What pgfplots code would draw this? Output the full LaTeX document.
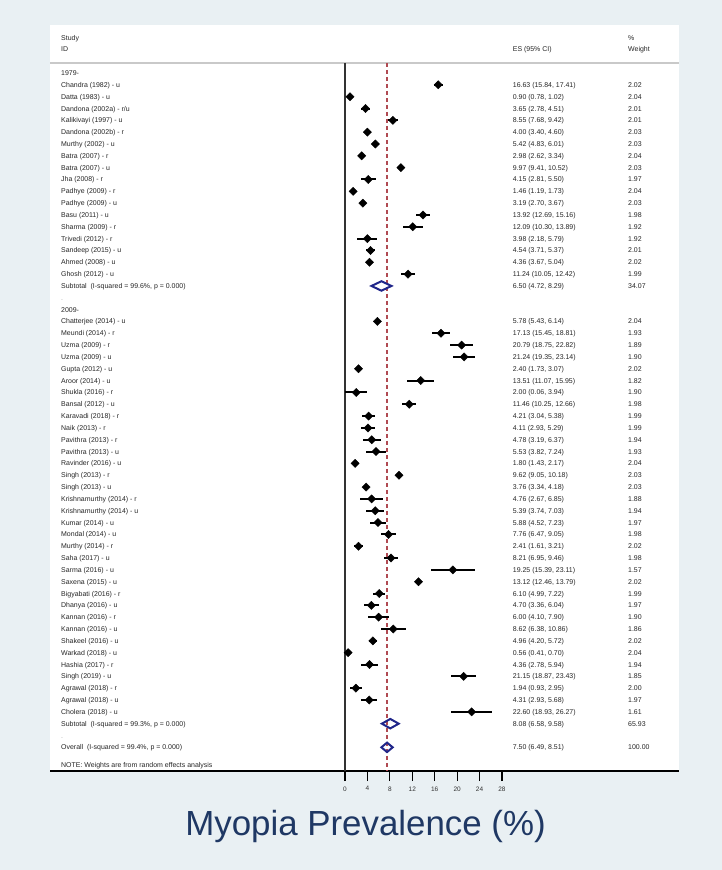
\documentclass[border=0pt]{standalone}
\usepackage{fontspec}
\setmainfont{Liberation Sans}
\usepackage{pgfplots}
\usepackage{pgfplotstable}
\pgfplotsset{compat=1.18}
\definecolor{PageBG}{HTML}{E9F0F3}
\definecolor{TitleNavy}{HTML}{1F3864}
\definecolor{DiaNavy}{HTML}{20268A}
\definecolor{RefRed}{HTML}{B04A52}
\definecolor{SepGray}{HTML}{C9C9C9}
\tikzset{txt/.style={anchor=base west, yshift=-2.5bp, inner sep=0pt,
  font=\fontsize{7}{8}\selectfont, text=black!85}}

% row; es; lo; hi; weight; study; ci text
\pgfplotstableread[col sep=semicolon]{
row;es;lo;hi;w;label;ci
1;16.63;15.84;17.41;2.02;Chandra (1982) - u;16.63 (15.84, 17.41)
2;0.90;0.78;1.02;2.04;Datta (1983) - u;0.90 (0.78, 1.02)
3;3.65;2.78;4.51;2.01;Dandona (2002a) - r/u;3.65 (2.78, 4.51)
4;8.55;7.68;9.42;2.01;Kalikivayi (1997) - u;8.55 (7.68, 9.42)
5;4.00;3.40;4.60;2.03;Dandona (2002b) - r;4.00 (3.40, 4.60)
6;5.42;4.83;6.01;2.03;Murthy (2002) - u;5.42 (4.83, 6.01)
7;2.98;2.62;3.34;2.04;Batra (2007) - r;2.98 (2.62, 3.34)
8;9.97;9.41;10.52;2.03;Batra (2007) - u;9.97 (9.41, 10.52)
9;4.15;2.81;5.50;1.97;Jha (2008) - r;4.15 (2.81, 5.50)
10;1.46;1.19;1.73;2.04;Padhye (2009) - r;1.46 (1.19, 1.73)
11;3.19;2.70;3.67;2.03;Padhye (2009) - u;3.19 (2.70, 3.67)
12;13.92;12.69;15.16;1.98;Basu (2011) - u;13.92 (12.69, 15.16)
13;12.09;10.30;13.89;1.92;Sharma (2009) - r;12.09 (10.30, 13.89)
14;3.98;2.18;5.79;1.92;Trivedi (2012) - r;3.98 (2.18, 5.79)
15;4.54;3.71;5.37;2.01;Sandeep (2015) - u;4.54 (3.71, 5.37)
16;4.36;3.67;5.04;2.02;Ahmed (2008) - u;4.36 (3.67, 5.04)
17;11.24;10.05;12.42;1.99;Ghosh (2012) - u;11.24 (10.05, 12.42)
21;5.78;5.43;6.14;2.04;Chatterjee (2014) - u;5.78 (5.43, 6.14)
22;17.13;15.45;18.81;1.93;Meundi (2014) - r;17.13 (15.45, 18.81)
23;20.79;18.75;22.82;1.89;Uzma (2009) - r;20.79 (18.75, 22.82)
24;21.24;19.35;23.14;1.90;Uzma (2009) - u;21.24 (19.35, 23.14)
25;2.40;1.73;3.07;2.02;Gupta (2012) - u;2.40 (1.73, 3.07)
26;13.51;11.07;15.95;1.82;Aroor (2014) - u;13.51 (11.07, 15.95)
27;2.00;0.06;3.94;1.90;Shukla (2016) - r;2.00 (0.06, 3.94)
28;11.46;10.25;12.66;1.98;Bansal (2012) - u;11.46 (10.25, 12.66)
29;4.21;3.04;5.38;1.99;Karavadi (2018) - r;4.21 (3.04, 5.38)
30;4.11;2.93;5.29;1.99;Naik (2013) - r;4.11 (2.93, 5.29)
31;4.78;3.19;6.37;1.94;Pavithra (2013) - r;4.78 (3.19, 6.37)
32;5.53;3.82;7.24;1.93;Pavithra (2013) - u;5.53 (3.82, 7.24)
33;1.80;1.43;2.17;2.04;Ravinder (2016) - u;1.80 (1.43, 2.17)
34;9.62;9.05;10.18;2.03;Singh (2013) - r;9.62 (9.05, 10.18)
35;3.76;3.34;4.18;2.03;Singh (2013) - u;3.76 (3.34, 4.18)
36;4.76;2.67;6.85;1.88;Krishnamurthy (2014) - r;4.76 (2.67, 6.85)
37;5.39;3.74;7.03;1.94;Krishnamurthy (2014) - u;5.39 (3.74, 7.03)
38;5.88;4.52;7.23;1.97;Kumar (2014) - u;5.88 (4.52, 7.23)
39;7.76;6.47;9.05;1.98;Mondal (2014) - u;7.76 (6.47, 9.05)
40;2.41;1.61;3.21;2.02;Murthy (2014) - r;2.41 (1.61, 3.21)
41;8.21;6.95;9.46;1.98;Saha (2017) - u;8.21 (6.95, 9.46)
42;19.25;15.39;23.11;1.57;Sarma (2016) - u;19.25 (15.39, 23.11)
43;13.12;12.46;13.79;2.02;Saxena (2015) - u;13.12 (12.46, 13.79)
44;6.10;4.99;7.22;1.99;Bigyabati (2016) - r;6.10 (4.99, 7.22)
45;4.70;3.36;6.04;1.97;Dhanya (2016) - u;4.70 (3.36, 6.04)
46;6.00;4.10;7.90;1.90;Kannan (2016) - r;6.00 (4.10, 7.90)
47;8.62;6.38;10.86;1.86;Kannan (2016) - u;8.62 (6.38, 10.86)
48;4.96;4.20;5.72;2.02;Shakeel (2016) - u;4.96 (4.20, 5.72)
49;0.56;0.41;0.70;2.04;Warkad (2018) - u;0.56 (0.41, 0.70)
50;4.36;2.78;5.94;1.94;Hashia (2017) - r;4.36 (2.78, 5.94)
51;21.15;18.87;23.43;1.85;Singh (2019) - u;21.15 (18.87, 23.43)
52;1.94;0.93;2.95;2.00;Agrawal (2018) - r;1.94 (0.93, 2.95)
53;4.31;2.93;5.68;1.97;Agrawal (2018) - u;4.31 (2.93, 5.68)
54;22.60;18.93;26.27;1.61;Cholera (2018) - u;22.60 (18.93, 26.27)
}\studies

\begin{document}
\begin{tikzpicture}
  \fill[PageBG] (0,0) rectangle (722bp,870bp);

  \begin{axis}[
    at={(50bp,99bp)}, anchor=south west,
    scale only axis,
    width=629bp, height=746bp,
    xmin=-52.61, xmax=59.57,
    ymin=-59.0, ymax=4.06,
    axis background/.style={fill=white},
    axis x line*=bottom,
    axis y line=none,
    axis line style={black, line width=1.4bp},
    xtick={0,4,...,28},
    ytick=\empty,
    tick align=outside,
    major tick length=10bp,
    tick style={black, line width=1.2bp},
    /pgf/number format/assume math mode=true,
    xticklabel style={font=\fontsize{6.5}{7}\selectfont, text=black!80, yshift=-2bp},
    clip=false,
  ]
    % header
    \node[txt] at (axis cs:-50.65,3) {Study};
    \node[txt] at (axis cs:-50.65,2) {ID};
    \node[txt] at (axis cs:29.91,2) {ES (95\% CI)};
    \node[txt] at (axis cs:50.47,3) {\%};
    \node[txt] at (axis cs:50.47,2) {Weight};
    \draw[SepGray, line width=1.8bp] (axis cs:-52.61,0.85) -- (axis cs:59.57,0.85);

    % reference lines
    \addplot[black!80, line width=1.5bp] coordinates {(0,0.85) (0,-59)};
    \addplot[RefRed, line width=1.5bp, dash pattern=on 4bp off 3bp] coordinates {(7.5,0.85) (7.5,-59)};

    % study estimates with CI
    \addplot[only marks, mark=square*, mark size=2.9bp, black,
      mark options={rotate=45},
      error bars/.cd, x dir=both, x explicit,
      error bar style={line width=2bp, black}, error mark=none]
      table[x=es, y expr=-\thisrow{row},
        x error plus expr=\thisrow{hi}-\thisrow{es},
        x error minus expr=\thisrow{es}-\thisrow{lo}] {\studies};

    % pooled diamonds
    \addplot[DiaNavy, line width=2bp] coordinates {(4.72,-18) (6.50,-17.6) (8.29,-18) (6.50,-18.4)} -- cycle;
    \addplot[DiaNavy, line width=2bp] coordinates {(6.58,-55) (8.08,-54.6) (9.58,-55) (8.08,-55.4)} -- cycle;
    \addplot[DiaNavy, line width=2bp] coordinates {(6.49,-57) (7.50,-56.6) (8.51,-57) (7.50,-57.4)} -- cycle;

    % text columns
    \addplot[draw=none, no markers, nodes near coords, point meta=explicit symbolic,
      every node near coord/.append style={txt}]
      table[x expr=-50.65, y expr=-\thisrow{row}, meta=label] {\studies};
    \addplot[draw=none, no markers, nodes near coords, point meta=explicit symbolic,
      every node near coord/.append style={txt}]
      table[x expr=29.91, y expr=-\thisrow{row}, meta=ci] {\studies};
    \addplot[draw=none, no markers, nodes near coords, point meta=explicit symbolic,
      every node near coord/.append style={txt}]
      table[x expr=50.47, y expr=-\thisrow{row}, meta=w] {\studies};

    % group and summary rows
    \node[txt] at (axis cs:-50.65,0) {1979-};
    \node[txt] at (axis cs:-50.65,-18) {Subtotal\ \ (I-squared = 99.6\%, p = 0.000)};
    \node[txt] at (axis cs:29.91,-18) {6.50 (4.72, 8.29)};
    \node[txt] at (axis cs:50.47,-18) {34.07};
    \node[txt, text=black!35] at (axis cs:-50.65,-19) {.};
    \node[txt] at (axis cs:-50.65,-20) {2009-};
    \node[txt] at (axis cs:-50.65,-55) {Subtotal\ \ (I-squared = 99.3\%, p = 0.000)};
    \node[txt] at (axis cs:29.91,-55) {8.08 (6.58, 9.58)};
    \node[txt] at (axis cs:50.47,-55) {65.93};
    \node[txt, text=black!35] at (axis cs:-50.65,-56) {.};
    \node[txt] at (axis cs:-50.65,-57) {Overall\ \ (I-squared = 99.4\%, p = 0.000)};
    \node[txt] at (axis cs:29.91,-57) {7.50 (6.49, 8.51)};
    \node[txt] at (axis cs:50.47,-57) {100.00};
    \node[txt] at (axis cs:-50.65,-58.5) {NOTE: Weights are from random effects analysis};
  \end{axis}

  \node[anchor=base, text=TitleNavy, font=\fontsize{35}{40}\selectfont]
    at (365.5bp,35bp) {Myopia Prevalence (\%)};

  \pgfresetboundingbox
  \useasboundingbox (0,0) rectangle (722bp,870bp);
\end{tikzpicture}
\end{document}
